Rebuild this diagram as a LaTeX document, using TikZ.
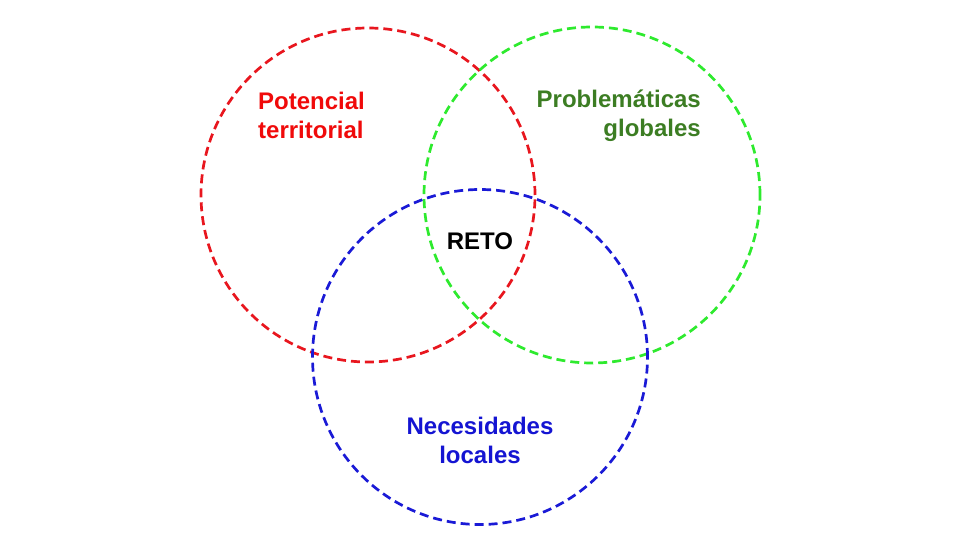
\documentclass[tikz,border=0pt]{standalone}
\usepackage{fontspec}
\setmainfont{Liberation Sans}
\definecolor{cred}{HTML}{E8161E}
\definecolor{cgreen}{HTML}{2EEA2E}
\definecolor{cblue}{HTML}{1A1AD6}
\definecolor{tred}{HTML}{F00A0A}
\definecolor{tgreen}{HTML}{3C7D23}
\definecolor{tblue}{HTML}{1414D2}
\begin{document}
\begin{tikzpicture}[x=1pt,y=-1pt,
  ring/.style={draw=#1,line width=2.7pt,dash pattern=on 9pt off 5pt},
  lbl/.style={font=\bfseries\fontsize{24}{29}\selectfont,text=#1,inner sep=0pt}]
\useasboundingbox (0,0) rectangle (960,540);
\node[circle,minimum size=334pt,ring=cred] (red) at (368,195) {};
\node[circle,minimum size=336pt,ring=cgreen] (green) at (592,195) {};
\node[circle,minimum size=335pt,ring=cblue] (blue) at (480,357) {};
\node[lbl=tred,align=left,anchor=west] (pt) at (258,115.5) {Potencial\\territorial};
\node[lbl=tgreen,align=right,anchor=east] (pg) at (701,115.5) {Problemáticas\\globales};
\node[lbl=tblue,align=center] (nl) at (480,440.5) {Necesidades\\locales};
\node[lbl=black] (reto) at (480,241) {RETO};
\end{tikzpicture}
\end{document}
